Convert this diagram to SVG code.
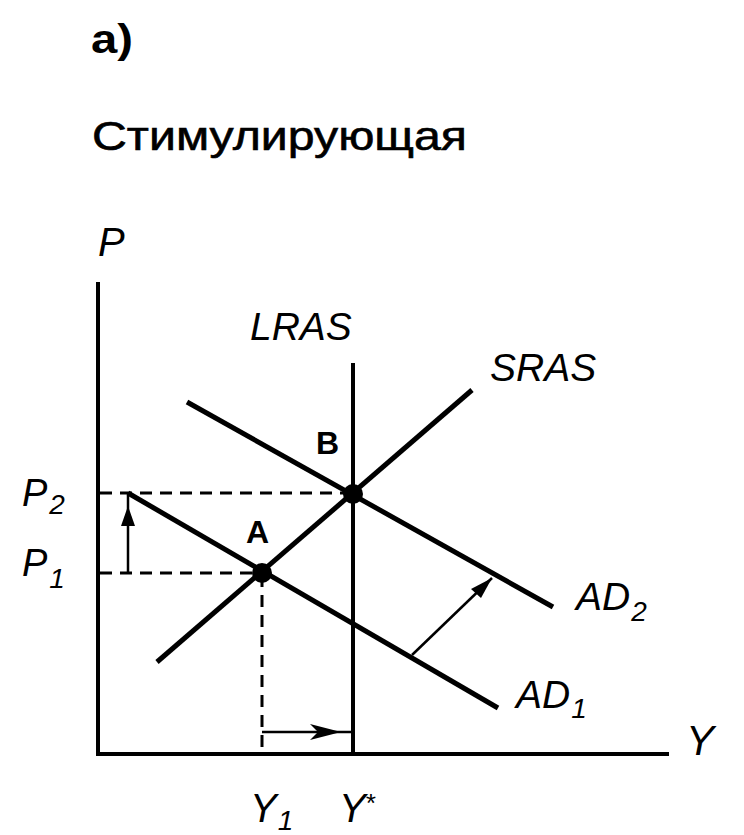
<svg xmlns="http://www.w3.org/2000/svg" width="744" height="835" viewBox="0 0 744 835">
<style>
.t{font-family:"Liberation Sans",Arial,sans-serif;fill:#000}
.i{font-style:italic}
.b{font-weight:bold}
.curve{stroke:#000;stroke-width:5;fill:none;stroke-linecap:butt}
.axis{stroke:#000;stroke-width:4;fill:none}
.dash{stroke:#000;stroke-width:3;stroke-dasharray:12 8;fill:none}
.arr{stroke:#000;stroke-width:2.5;fill:none}
</style>
<rect width="744" height="835" fill="#fff"/>
<g id="title">
<text class="t b" x="91" y="53" font-size="41" textLength="42" lengthAdjust="spacingAndGlyphs">a)</text>
<text class="t" x="92" y="150" font-size="40" textLength="375" lengthAdjust="spacingAndGlyphs" stroke="#000" stroke-width="0.6">Стимулирующая</text>
</g>
<g id="axes">
<line class="axis" x1="98" y1="282" x2="98" y2="756"/>
<line class="axis" x1="96" y1="754" x2="669" y2="754"/>
<text class="t i" x="98" y="256" font-size="40">P</text>
<text class="t i" x="686" y="755" font-size="42">Y</text>
</g>
<g id="connectors">
<line class="dash" x1="100" y1="493" x2="350" y2="493"/>
<line class="dash" x1="100" y1="573" x2="260" y2="573"/>
<line class="dash" x1="262" y1="575" x2="262" y2="752" stroke-dasharray="10 8"/>
<line class="arr" x1="128" y1="573" x2="128" y2="493"/>
<polygon points="128,506 121,526 135,526" fill="#000"/>
<line class="arr" x1="262" y1="732" x2="353" y2="732"/>
<polygon points="341,732 310,724 318,732 310,740" fill="#000"/>
<line class="arr" x1="412" y1="655" x2="492" y2="578"/>
<polygon points="492,578 471,589 481,598" fill="#000"/>
</g>
<g id="LRAS">
<line class="axis" x1="353" y1="363" x2="353" y2="754"/>
<text class="t i" x="250" y="340" font-size="39">LRAS</text>
</g>
<g id="SRAS">
<line class="curve" x1="157" y1="662" x2="472" y2="390"/>
<text class="t i" x="490" y="381" font-size="39">SRAS</text>
</g>
<g id="AD1">
<line class="curve" x1="128" y1="493" x2="498" y2="708"/>
<text class="t i" x="516" y="708" font-size="39">AD<tspan font-size="28" dy="10" dx="1">1</tspan></text>
</g>
<g id="AD2">
<line class="curve" x1="187" y1="402" x2="553" y2="607"/>
<text class="t i" x="576" y="610" font-size="39">AD<tspan font-size="28" dy="11" dx="1">2</tspan></text>
</g>
<g id="pointA">
<circle cx="262" cy="573" r="10" fill="#000"/>
<text class="t b" x="246" y="543" font-size="32">A</text>
</g>
<g id="pointB">
<circle cx="353" cy="494" r="10" fill="#000"/>
<text class="t b" x="316" y="454" font-size="32">B</text>
</g>
<g id="labels">
<text class="t i" x="22" y="506" font-size="38">P<tspan font-size="28" dy="8" dx="2">2</tspan></text>
<text class="t i" x="22" y="576" font-size="38">P<tspan font-size="28" dy="12" dx="2">1</tspan></text>
<text class="t i" x="250" y="822" font-size="40">Y<tspan font-size="28" dy="8" dx="1">1</tspan></text>
<text class="t i" x="339" y="822" font-size="40">Y<tspan font-size="26" dy="-10" dx="-1">*</tspan></text>
</g>
</svg>
